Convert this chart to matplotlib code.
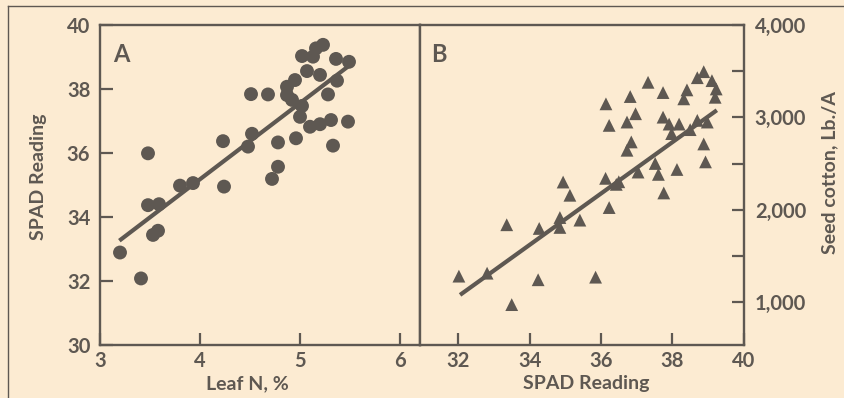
import numpy as np
import matplotlib
matplotlib.use("Agg")
import matplotlib.pyplot as plt
from matplotlib.lines import Line2D
from matplotlib.ticker import FixedLocator, FuncFormatter

# ==================== DADOS ====================
# Painel A: N foliar (%) vs leitura SPAD
leaf_n = [3.20, 3.41, 3.48, 3.48, 3.59, 3.53, 3.58, 3.80, 3.93, 4.24,
          4.23, 4.48, 4.52, 4.51, 4.68, 4.72, 4.78, 4.78, 4.96, 5.00,
          5.02, 4.87, 4.87, 4.95, 4.92, 5.10, 5.20, 5.31, 5.33, 5.48,
          5.28, 5.37, 5.20, 5.07, 5.02, 5.13, 5.16, 5.23, 5.36, 5.49]
spad_a = [32.89, 32.08, 35.99, 34.37, 34.40, 33.44, 33.57, 34.98, 35.06, 34.95,
          36.37, 36.20, 36.60, 37.84, 37.83, 35.19, 35.57, 36.33, 36.46, 37.13,
          37.47, 37.81, 38.07, 38.28, 37.66, 36.82, 36.90, 37.03, 36.23, 36.98,
          37.83, 38.26, 38.44, 38.56, 39.03, 39.01, 39.27, 39.38, 38.94, 38.85]
fit_a = (2.38, 25.66)        # inclinação, intercepto
fit_a_range = (3.21, 5.48)

# Painel B: leitura SPAD vs algodão em caroço (Lb./A)
spad_b = [32.02, 32.81, 33.36, 33.50, 34.24, 34.27, 34.85, 34.85, 34.94, 35.13,
          35.41, 35.85, 36.13, 36.23, 36.43, 36.50, 37.04, 37.52, 37.61, 37.76,
          38.13, 38.93, 38.88, 36.14, 36.23, 36.73, 36.97, 36.82, 37.32, 37.74,
          36.85, 36.73, 37.74, 37.91, 38.19, 37.98, 38.50, 38.70, 38.98, 38.41,
          38.32, 38.70, 38.88, 39.11, 39.23, 39.20]
cotton = [1283, 1315, 1839, 975, 1244, 1799, 1917, 1810, 2301, 2158,
          1889, 1272, 2341, 2025, 2276, 2304, 2409, 2502, 2384, 2183,
          2437, 2519, 2713, 3147, 2914, 2950, 3040, 3226, 3380, 3269,
          2735, 2645, 3003, 2928, 2928, 2825, 2868, 2968, 2950, 3298,
          3201, 3430, 3495, 3398, 3308, 3218]
fit_b = (277.7, -7821.0)
fit_b_range = (32.1, 39.2)

a_xticks = [3, 4, 5, 6]
a_yticks = [30, 32, 34, 36, 38, 40]
b_xticks = [32, 34, 36, 38, 40]
b_yticks = [1000, 1500, 2000, 2500, 3000, 3500, 4000]
b_ylabels = [1000, 2000, 3000, 4000]

# ==================== ESTILO ====================
BG = "#fcebd2"
INK = "#5e5852"
FONT = ["Lato", "DejaVu Sans"]
plt.rcParams["font.family"] = FONT
plt.rcParams["font.weight"] = "bold"
TICK_FS = 14.5
LABEL_FS = 14

W, H = 845, 398
fig = plt.figure(figsize=(W / 100, H / 100), dpi=100, facecolor=BG)


def px_box(left, top, right, bottom):
    return [left / W, 1 - bottom / H, (right - left) / W, (bottom - top) / H]


ax1 = fig.add_axes(px_box(100, 25, 420, 345))
ax2 = fig.add_axes(px_box(420, 25, 743.7, 345))

for ax in (ax1, ax2):
    ax.set_facecolor(BG)
    for sp in ax.spines.values():
        sp.set_color(INK)
        sp.set_linewidth(1.7)
    ax.tick_params(direction="in", colors=INK, length=9, width=1.6,
                   labelsize=TICK_FS, labelcolor=INK)

# Painel A
ax1.scatter(leaf_n, spad_a, s=100, color=INK, edgecolors="none", zorder=3)
xa = np.array(fit_a_range)
ax1.plot(xa, fit_a[0] * xa + fit_a[1], color=INK, lw=3, zorder=2)
ax1.set_xlim(3, 6.2)
ax1.set_ylim(30, 40)
ax1.set_xticks(a_xticks)
ax1.set_yticks(a_yticks)
ax1.tick_params(axis="y", pad=7)
ax1.tick_params(axis="x", pad=4)
ax1.set_xlabel("Leaf N, %", fontsize=LABEL_FS, color=INK, fontweight="bold")
ax1.set_ylabel("SPAD Reading", fontsize=LABEL_FS, color=INK,
               fontweight="bold")
ax1.xaxis.set_label_coords(0.46, -0.095)
ax1.yaxis.set_label_coords(-0.165, 0.525)
ax1.text(0.04, 0.945, "A", transform=ax1.transAxes, fontsize=17,
         fontweight="bold", color=INK, va="top", ha="left")

# Painel B
ax2.scatter(spad_b, cotton, s=85, marker="^", color=INK, edgecolors="none",
            zorder=3)
xb = np.array(fit_b_range)
ax2.plot(xb, fit_b[0] * xb + fit_b[1], color=INK, lw=3, zorder=2)
ax2.set_xlim(30.93, 40)
ax2.set_ylim(538, 4000)
ax2.set_xticks(b_xticks)
ax2.yaxis.tick_right()
ax2.yaxis.set_label_position("right")
ax2.yaxis.set_major_locator(FixedLocator(b_yticks))
ax2.yaxis.set_major_formatter(
    FuncFormatter(lambda v, p: f"{int(v):,}" if int(v) in b_ylabels else ""))
ax2.tick_params(axis="y", pad=8)
ax2.tick_params(axis="x", pad=4)
ax2.set_xlabel("SPAD Reading", fontsize=LABEL_FS, color=INK,
               fontweight="bold")
ax2.set_ylabel("Seed cotton, Lb./A", fontsize=LABEL_FS, color=INK,
               fontweight="bold")
ax2.xaxis.set_label_coords(0.513, -0.095)
ax2.yaxis.set_label_coords(1.24, 0.54)
ax2.text(0.035, 0.945, "B", transform=ax2.transAxes, fontsize=17,
         fontweight="bold", color=INK, va="top", ha="left")

# Moldura externa
fig.add_artist(Line2D([8 / W, 1], [1 - 6 / H, 1 - 6 / H], color=INK,
                      lw=1.0, transform=fig.transFigure))
fig.add_artist(Line2D([8 / W, 8 / W], [0, 1 - 6 / H], color=INK,
                      lw=1.0, transform=fig.transFigure))

fig.savefig("out.png", dpi=100, facecolor=BG)
